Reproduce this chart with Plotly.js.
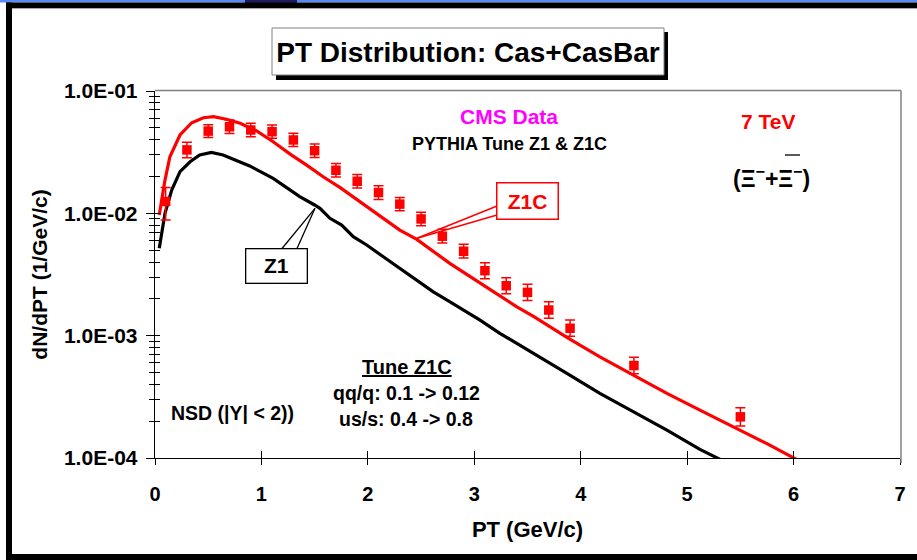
<!DOCTYPE html>
<html><head><meta charset="utf-8">
<script src="https://cdn.plot.ly/plotly-3.0.1.min.js"></script>
<style>html,body{margin:0;padding:0;background:#fff;overflow:hidden;} #chart{width:917px;height:560px;}</style>
</head><body><div id="chart"></div>
<script>
// ---- CMS data (Xi- + anti-Xi-), 7 TeV ----
const cmsPt  = [0.1, 0.3, 0.5, 0.7, 0.9, 1.1, 1.3, 1.5, 1.7, 1.9, 2.1, 2.3, 2.5, 2.7, 2.9, 3.1, 3.3, 3.5, 3.7, 3.9, 4.5, 5.5];
const cmsVal = [0.0125, 0.033, 0.047, 0.051, 0.048, 0.0465, 0.0398, 0.0325, 0.0225, 0.0183, 0.0148, 0.0119, 0.0090, 0.0065, 0.0049, 0.0034, 0.00256, 0.00226, 0.00162, 0.00115, 0.00057, 0.000217];
const cmsErrHi = [0.0038, 0.0052, 0.0061, 0.0069, 0.0065, 0.0063, 0.0054, 0.0044, 0.0030, 0.0025, 0.0020, 0.0016, 0.0012, 0.00090, 0.00068, 0.00055, 0.00042, 0.00037, 0.00027, 0.00019, 0.000095, 0.000040];
const cmsErrLo = [0.0037, 0.0045, 0.0054, 0.0061, 0.0057, 0.0055, 0.0047, 0.0039, 0.0027, 0.0022, 0.0018, 0.0014, 0.0011, 0.00078, 0.00059, 0.00048, 0.00036, 0.00032, 0.00023, 0.00016, 0.000081, 0.000034];

// ---- PYTHIA Tune Z1C ----
const z1cPt  = [0.04, 0.094, 0.14, 0.235, 0.345, 0.455, 0.55, 0.67, 0.8, 0.955, 1.11, 1.27, 1.425, 1.58, 1.74, 1.99, 2.30, 2.46, 2.77, 3.085, 3.40, 3.56, 3.87, 4.18, 4.5, 4.81, 5.12, 5.44, 5.75, 6.09];
const z1cVal = [0.0097, 0.0187, 0.029, 0.0437, 0.055, 0.0605, 0.0617, 0.0587, 0.0545, 0.0471, 0.0385, 0.0305, 0.0248, 0.0199, 0.0162, 0.0113, 0.0073, 0.00612, 0.0039, 0.00259, 0.00172, 0.00143, 0.000968, 0.000672, 0.000476, 0.000337, 0.000246, 0.000180, 0.000131, 0.000091];

// ---- PYTHIA Tune Z1 ----
const z1Pt  = [0.04, 0.094, 0.157, 0.235, 0.33, 0.42, 0.53, 0.64, 0.77, 0.89, 1.11, 1.36, 1.50, 1.55, 1.644, 1.754, 1.863, 1.989, 2.145, 2.302, 2.459, 2.615, 2.772, 2.929, 3.054, 3.24, 3.56, 3.87, 4.18, 4.5, 4.81, 5.12, 5.39];
const z1Val = [0.00518, 0.010, 0.0155, 0.0219, 0.0264, 0.030, 0.0315, 0.030, 0.0269, 0.0244, 0.0193, 0.0137, 0.0117, 0.0110, 0.0091, 0.00802, 0.00644, 0.00551, 0.00442, 0.00355, 0.00284, 0.00228, 0.00189, 0.00157, 0.00134, 0.001045, 0.000716, 0.000492, 0.000337, 0.000239, 0.000169, 0.0001175, 0.00009];

// ---- axis ticks ----
const xTickVals = [0, 1, 2, 3, 4, 5, 6, 7];
const yTickVals = [1e-4, 1e-3, 1e-2, 1e-1];
const yTickText = ['1.0E-04', '1.0E-03', '1.0E-02', '1.0E-01'];

// ---- layout helpers ----
const W = 917, H = 560, L = 155, R = 17, T = 91, B = 102;
const PX = x => (x - L) / (W - L - R);
const PY = y => (H - B - y) / (H - T - B);
const FONT = '"Liberation Sans", Arial, sans-serif';
const minorVals = [];
for (let e = -4; e < -1; e++) for (let m = 2; m <= 9; m++) minorVals.push(m * Math.pow(10, e));

function ann(text, cx, cy, size, color, extra) {
  return Object.assign({text, x: PX(cx), y: PY(cy), xref: 'paper', yref: 'paper',
    xanchor: 'center', yanchor: 'middle', showarrow: false,
    font: {family: FONT, size, color, weight: 700}}, extra || {});
}
function rect(x0, y0, x1, y1, fill, line) {
  return {type: 'rect', xref: 'paper', yref: 'paper', x0: PX(x0), x1: PX(x1), y0: PY(y0), y1: PY(y1),
    fillcolor: fill, line: line || {width: 0}};
}
function seg(x0, y0, x1, y1, color, width) {
  return {type: 'line', xref: 'paper', yref: 'paper', x0: PX(x0), x1: PX(x1), y0: PY(y0), y1: PY(y1),
    line: {color, width}};
}

const traces = [
  {x: z1Pt, y: z1Val, type: 'scatter', mode: 'lines', line: {color: '#000000', width: 3.2}, name: 'Z1', hoverinfo: 'skip'},
  {x: z1cPt, y: z1cVal, type: 'scatter', mode: 'lines', line: {color: '#ff0000', width: 3.2}, name: 'Z1C', hoverinfo: 'skip'},
  {x: cmsPt, y: cmsVal, type: 'scatter', mode: 'markers', name: 'CMS Data',
    marker: {symbol: 'square', size: 9.5, color: '#ff0000'},
    error_y: {type: 'data', symmetric: false, array: cmsErrHi, arrayminus: cmsErrLo, color: '#ff0000', thickness: 1.5, width: 5}},
  {x: cmsPt, y: cmsVal, xaxis: 'x2', yaxis: 'y2', type: 'scatter', mode: 'markers', marker: {opacity: 0}, hoverinfo: 'skip', showlegend: false}
];

const axCommon = {showgrid: false, zeroline: false, tickcolor: '#000', tickwidth: 1};
const layout = {
  width: W, height: H, margin: {l: L, r: R, t: T, b: B, pad: 0},
  paper_bgcolor: '#ffffff', plot_bgcolor: '#ffffff', showlegend: false,
  title: {text: 'PT Distribution: Cas+CasBar', x: 468 / W, xanchor: 'center', xref: 'container',
    y: 1 - 52 / H, yanchor: 'middle', yref: 'container', font: {family: FONT, size: 28, color: '#000', weight: 700}},
  xaxis: Object.assign({}, axCommon, {range: [0, 7], tickvals: xTickVals, ticks: 'outside', ticklen: 6,
    showline: true, linecolor: '#000', linewidth: 1.3, ticklabelstandoff: 12,
    tickfont: {family: FONT, size: 20, color: '#000', weight: 700},
    title: {text: 'PT (GeV/c)', standoff: 17, font: {family: FONT, size: 22, color: '#000', weight: 700}}}),
  yaxis: Object.assign({}, axCommon, {type: 'log', range: [-4, -1], tickvals: yTickVals, ticktext: yTickText,
    ticks: 'outside', ticklen: 8, showline: true, linecolor: '#000', linewidth: 1.3, ticklabelstandoff: 4,
    minor: {tickvals: minorVals, ticks: 'outside', ticklen: 5, tickcolor: '#000', tickwidth: 1, showgrid: false},
    tickfont: {family: FONT, size: 21, color: '#000', weight: 700},
    title: {text: 'dN/dPT (1/GeV/c)', standoff: 10, font: {family: FONT, size: 21, color: '#000', weight: 700}}}),
  xaxis2: Object.assign({}, axCommon, {range: [0, 7], overlaying: 'x', anchor: 'y2', side: 'bottom', tickvals: xTickVals,
    ticks: 'inside', ticklen: 7, showticklabels: false, showline: false}),
  yaxis2: Object.assign({}, axCommon, {type: 'log', range: [-4, -1], overlaying: 'y', anchor: 'x2', side: 'left', tickvals: yTickVals,
    ticks: 'inside', ticklen: 5, showticklabels: false, showline: false,
    minor: {tickvals: minorVals, ticks: 'inside', ticklen: 5, tickcolor: '#000', tickwidth: 1, showgrid: false}}),
  shapes: [
    // outer frame
    rect(0, 0, 917, 2.6, '#5a8af2'),
    rect(245, 0, 297, 3, '#1d1d5c'),
    rect(6, 2.6, 917, 8, '#000000'),
    seg(12, 8.6, 917, 8.6, '#a0a0a0', 1),
    rect(6, 2.6, 12, 560, '#000000'),
    rect(6, 554, 917, 560, '#000000'),
    // plot area border (top/right)
    seg(155, 90.5, 901, 90.5, '#808080', 1.5),
    seg(901, 90.5, 901, 463, '#808080', 1.5),
    // title box with shadow
    rect(276, 32, 668, 80, '#000000'),
    rect(272, 28, 664, 75, '#ffffff', {color: '#808080', width: 1}),
    // Z1C leader lines
    seg(497, 206, 417, 238.3, '#ff0000', 1.5),
    seg(497, 215, 417, 238.3, '#ff0000', 1.5),
    // Z1 leader lines
    seg(282, 248.5, 315, 208.3, '#000000', 1.3),
    seg(297, 248.5, 315, 208.3, '#000000', 1.3),
    // overbar on anti-Xi
    seg(785, 155, 800, 155, '#000000', 1.3)
  ],
  annotations: [
    ann('CMS Data', 509, 116, 21, '#ff00ff'),
    ann('PYTHIA Tune Z1 & Z1C', 509, 144, 18, '#000000'),
    ann('7 TeV', 768, 121, 21, '#ff0000'),
    ann('(Ξ<sup>−</sup>+Ξ<sup>−</sup>)', 771, 177, 23, '#000000'),
    ann('Z1C', 527, 201, 21, '#ff0000', {bgcolor: '#ffffff', bordercolor: '#ff0000', borderwidth: 1.5, width: 58, height: 33, borderpad: 1}),
    ann('Z1', 276, 266, 21, '#000000', {bgcolor: '#ffffff', bordercolor: '#000000', borderwidth: 1.3, width: 58, height: 31, borderpad: 1}),
    ann('<u>Tune Z1C</u>', 407, 367, 20, '#000000'),
    ann('qq/q: 0.1 -> 0.12', 406, 393, 19.5, '#000000'),
    ann('us/s: 0.4 -> 0.8', 406, 419, 19.5, '#000000'),
    ann('NSD (|Y| < 2))', 232, 413, 19.5, '#000000')
  ]
};

Plotly.newPlot('chart', traces, layout, {staticPlot: true, displayModeBar: false});
</script>
</body></html>
